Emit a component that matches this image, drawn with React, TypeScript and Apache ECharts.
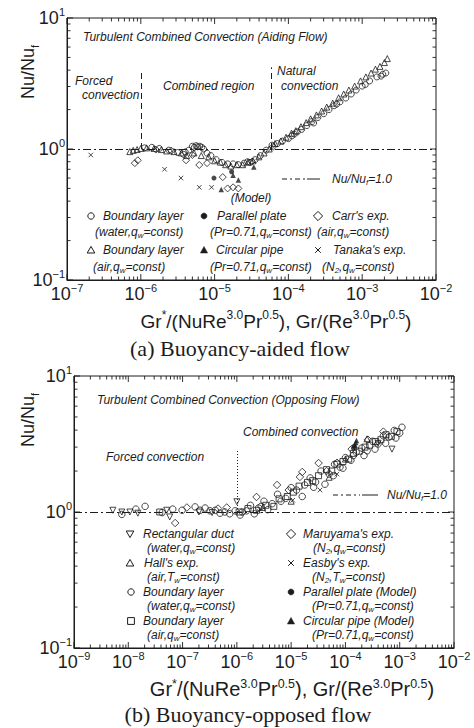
import React, { useEffect, useRef } from 'react';
import * as echarts from 'echarts';

const SANS = '"Liberation Sans", Arial, Helvetica, sans-serif';
const SERIF = '"Liberation Serif", "Times New Roman", serif';
const INK = '#1c1c1c';

// ---------- (a) Buoyancy-aided flow ----------
const A_BL_WATER: number[][] = [
  [1.12e-6, 1.02], [1.41e-6, 1.03], [1.78e-6, 1.01], [2.4e-6, 0.98], [3.16e-6, 0.94], [3.8e-6, 0.91],
  [4.0e-6, 0.95], [4.47e-6, 0.98], [5.0e-6, 1.05], [5.3e-6, 1.03], [5.6e-6, 1.06], [5.9e-6, 1.04],
  [6.3e-6, 1.05], [6.7e-6, 1.03], [7.1e-6, 1.0], [7.9e-6, 0.93], [8.9e-6, 0.89], [1.05e-5, 0.83],
  [1.26e-5, 0.79], [1.51e-5, 0.77], [1.78e-5, 0.77], [2.09e-5, 0.76], [2.51e-5, 0.78], [2.8e-5, 0.8],
  [3.02e-5, 0.79], [3.55e-5, 0.83], [4.17e-5, 0.89], [5.0e-5, 0.98], [6.0e-5, 1.07], [7.1e-5, 1.1],
  [8.3e-5, 1.15], [1.0e-4, 1.2], [1.12e-4, 1.26], [1.2e-4, 1.3], [1.32e-4, 1.35], [1.51e-4, 1.41],
  [1.78e-4, 1.51], [2.09e-4, 1.62], [2.2e-4, 1.58], [2.51e-4, 1.74], [3.02e-4, 1.86], [3.55e-4, 2.0],
  [4.17e-4, 2.14], [4.5e-4, 2.2], [5.0e-4, 2.29], [6.0e-4, 2.45], [7.1e-4, 2.63], [8.3e-4, 2.82],
  [1.0e-3, 3.02], [1.1e-3, 3.1], [1.26e-3, 3.31], [1.58e-3, 3.55], [1.8e-3, 3.6], [1.9e-3, 3.72],
  [2.09e-3, 3.8],
];
const A_BL_AIR: number[][] = [
  [7.1e-7, 0.955], [7.9e-7, 0.977], [8.9e-7, 0.99], [1.0e-6, 1.01], [1.2e-6, 1.02], [1.51e-6, 1.01],
  [1.9e-6, 0.99], [2.24e-6, 0.966], [2.82e-6, 0.955], [3.55e-6, 0.933], [4.17e-6, 0.891], [5.25e-6, 0.933],
  [6.6e-6, 0.891], [8.3e-6, 0.871], [1.0e-5, 0.813], [1.2e-5, 0.794], [1.41e-5, 0.759], [1.66e-5, 0.741],
  [2.0e-5, 0.759], [2.4e-5, 0.759], [2.82e-5, 0.794], [3.31e-5, 0.813], [3.98e-5, 0.871], [4.68e-5, 0.933],
  [5.5e-5, 1.0], [6.6e-5, 1.1], [7.9e-5, 1.15], [9.3e-5, 1.23], [1.1e-4, 1.32], [1.26e-4, 1.38],
  [1.48e-4, 1.48], [1.74e-4, 1.59], [2.0e-4, 1.7], [2.4e-4, 1.82], [2.82e-4, 1.95], [3.31e-4, 2.09],
  [3.98e-4, 2.24], [4.79e-4, 2.46], [5.62e-4, 2.63], [6.6e-4, 2.82], [7.9e-4, 3.02], [9.5e-4, 3.31],
  [1.12e-3, 3.55], [1.32e-3, 3.8], [1.51e-3, 4.07], [1.74e-3, 4.27], [2.0e-3, 4.57], [2.19e-3, 4.9],
];
const A_CARR: number[][] = [
  [8.3e-7, 0.78], [9.1e-7, 0.82], [1.6e-6, 0.99], [2.6e-6, 0.97], [4.1e-6, 0.82], [5.0e-6, 0.9],
  [6.2e-6, 0.755], [7.9e-6, 0.78], [1.29e-5, 0.61], [1.5e-5, 0.5], [1.78e-5, 0.51], [2.1e-5, 0.5],
  [3.2e-5, 0.8], [6.2e-5, 1.04],
];
const A_TANAKA: number[][] = [[2.1e-7, 0.9], [2.1e-6, 0.7], [3.5e-6, 0.6], [6.2e-6, 0.51], [9.1e-6, 0.51]];
const A_PLATE: number[][] = [[9.8e-6, 0.6], [1.7e-5, 0.67]];
const A_PIPE: number[][] = [[1.23e-5, 0.49], [1.78e-5, 0.63], [2.1e-5, 0.58], [3.4e-5, 0.73]];

// ---------- (b) Buoyancy-opposed flow ----------
const B_RECT: number[][] = [
  [5.2e-9, 1.03], [7.6e-9, 1.0], [1.07e-8, 1.0], [1.5e-8, 0.98], [5.1e-8, 1.03], [5.8e-8, 0.92],
  [2.0e-7, 1.0], [3.5e-7, 0.99], [1.0e-6, 1.19], [4.0e-4, 3.2], [7.2e-4, 2.9],
];
const B_HALL: number[][] = [[3.0e-6, 1.08], [1.0e-5, 1.2], [5.0e-5, 1.8], [1.0e-4, 2.45], [2.5e-4, 3.45]];
const B_BL_WATER: number[][] = [
  [7.6e-9, 0.96], [1.38e-8, 1.05], [2.04e-8, 1.1], [4.2e-8, 0.99], [6.6e-8, 1.05], [9.8e-8, 1.03],
  [1.7e-7, 1.09], [2.1e-7, 1.03], [2.6e-7, 1.07], [3.2e-7, 1.02], [4.0e-7, 1.03], [4.9e-7, 0.98],
  [6.0e-7, 1.0], [7.4e-7, 0.97], [9.3e-7, 1.02], [1.15e-6, 0.95],
  [1.26e-6, 1.0], [1.5e-6, 1.02], [1.78e-6, 1.12], [2.1e-6, 0.97], [2.51e-6, 1.07], [2.8e-6, 1.1],
  [3.16e-6, 1.2], [3.7e-6, 1.04], [4.47e-6, 1.15], [5.62e-6, 1.35], [6.5e-6, 1.2], [7.94e-6, 1.26],
  [1.0e-5, 1.51], [1.26e-5, 1.45], [1.6e-5, 1.3], [1.78e-5, 1.58], [2.24e-5, 1.78], [2.6e-5, 1.52],
  [2.82e-5, 1.66], [3.55e-5, 2.0], [4.2e-5, 1.6], [5.01e-5, 1.9], [6.0e-5, 1.85], [6.31e-5, 2.24],
  [7.94e-5, 2.14], [9.0e-5, 2.1], [1.0e-4, 2.51], [1.26e-4, 2.4], [1.4e-4, 2.6], [1.58e-4, 2.75],
  [2.0e-4, 2.95], [2.2e-4, 2.6], [2.51e-4, 2.82], [3.16e-4, 3.31], [3.5e-4, 2.9], [3.98e-4, 3.16],
  [5.01e-4, 3.63], [5.5e-4, 3.2], [6.31e-4, 3.55], [7.94e-4, 3.98], [8.5e-4, 3.5], [1.0e-3, 3.8],
  [1.1e-3, 4.2],
];
const B_BL_AIR: number[][] = [
  [3.8e-8, 1.0], [1.1e-6, 1.0], [1.6e-6, 1.06], [2.3e-6, 1.03], [3.4e-6, 1.12], [4.8e-6, 1.1],
  [6.0e-6, 1.25], [8.5e-6, 1.3], [1.1e-5, 1.4], [1.4e-5, 1.55], [2.0e-5, 1.65], [2.5e-5, 1.7],
  [3.2e-5, 1.85], [4.5e-5, 2.05], [5.6e-5, 2.0], [7.0e-5, 2.25], [9.0e-5, 2.35], [1.15e-4, 2.45],
  [1.4e-4, 2.7], [1.8e-4, 2.8], [2.3e-4, 3.0], [2.8e-4, 3.1], [3.6e-4, 3.3], [4.5e-4, 3.4],
  [5.6e-4, 3.7], [7.0e-4, 3.6], [8.9e-4, 3.9],
];
const B_MARUYAMA: number[][] = [
  [7.3e-8, 0.83], [1.2e-7, 1.08], [4.5e-7, 1.06], [6.5e-7, 1.08], [2.3e-6, 1.29], [5.5e-6, 1.58],
  [9.0e-6, 1.45], [1.45e-5, 1.81], [1.6e-5, 1.97], [3.2e-5, 2.29], [4.5e-5, 2.0], [7.0e-5, 2.3],
  [1.3e-4, 2.9], [2.6e-4, 3.4], [5.0e-4, 3.9],
];
const B_EASBY: number[][] = [[2.5e-6, 1.02], [1.07e-5, 1.22], [3.4e-5, 1.45], [7.0e-5, 1.9]];
const B_PLATE: number[][] = [[1.4e-4, 2.95], [1.45e-4, 3.05]];
const B_PIPE: number[][] = [[1.5e-4, 3.1], [1.55e-4, 3.25], [1.6e-4, 3.35]];

// axis ranges (decades)
const A_X_DECADES = [-7, -2];
const B_X_DECADES = [-9, -2];
const Y_DECADES = [-1, 1];

const SYM_DIAMOND = 'path://M0,-10L10,0L0,10L-10,0Z';
const SYM_X = 'path://M-10,-10L10,10M10,-10L-10,10';
const SYM_TRI_DOWN = 'path://M-10,-9L10,-9L0,9Z';

function logTicks(d0: number, d1: number): number[][] {
  const out: number[][] = [];
  for (let d = d0; d < d1; d++) {
    for (let m = 1; m <= 9; m++) out.push([m * Math.pow(10, d), m === 1 ? 1 : 0]);
  }
  out.push([Math.pow(10, d1), 1]);
  return out;
}

function scatter(data: number[][], gi: number, symbol: string, size: number, filled: boolean) {
  return {
    type: 'scatter',
    xAxisIndex: gi,
    yAxisIndex: gi,
    data,
    symbol,
    symbolSize: size,
    silent: true,
    z: 3,
    itemStyle: filled
      ? { color: INK, borderWidth: 0 }
      : { color: 'rgba(0,0,0,0)', borderColor: INK, borderWidth: 1 },
  };
}

function tickSeries(gi: number, ticks: number[][], axis: 'x' | 'y', lo: number[], hi: number[]) {
  const data = ticks.map((t) => (axis === 'x' ? [t[0], 1, t[1]] : [1e-4, t[0], t[1]]));
  return {
    type: 'custom',
    coordinateSystem: 'cartesian2d',
    xAxisIndex: gi,
    yAxisIndex: gi,
    silent: true,
    clip: false,
    encode: { x: 0, y: 1 },
    data,
    renderItem: (params: any, api: any) => {
      const major = api.value(2) === 1;
      const len = major ? 6 : 3.5;
      const st = { stroke: INK, lineWidth: 0.9 };
      if (axis === 'x') {
        const v = api.value(0);
        const b = api.coord([v, lo[1]]);
        const t = api.coord([v, hi[1]]);
        return {
          type: 'group',
          children: [
            { type: 'line', shape: { x1: b[0], y1: b[1], x2: b[0], y2: b[1] - len }, style: st },
            { type: 'line', shape: { x1: t[0], y1: t[1], x2: t[0], y2: t[1] + len }, style: st },
          ],
        };
      }
      const v = api.value(1);
      const l = api.coord([lo[0], v]);
      const r = api.coord([hi[0], v]);
      return {
        type: 'group',
        children: [
          { type: 'line', shape: { x1: l[0], y1: l[1], x2: l[0] + len, y2: l[1] }, style: st },
          { type: 'line', shape: { x1: r[0], y1: r[1], x2: r[0] - len, y2: r[1] }, style: st },
        ],
      };
    },
  };
}

const powLabel = (v: number) => {
  const e = Math.round(Math.log10(v));
  return `{b|10}{s|${e < 0 ? '\u2212' + -e : e}}`;
};
const POW_RICH = {
  b: { fontSize: 18, lineHeight: 24, fontFamily: SANS, color: INK, verticalAlign: 'middle' },
  s: { fontSize: 11, lineHeight: 11, fontFamily: SANS, color: INK, verticalAlign: 'top' },
};

function xAxis(gi: number, dec: number[]) {
  return {
    type: 'log',
    gridIndex: gi,
    logBase: 10,
    min: Math.pow(10, dec[0]),
    max: Math.pow(10, dec[1]),
    axisLine: { show: true, lineStyle: { color: INK, width: 1 } },
    axisTick: { show: false },
    splitLine: { show: false },
    axisLabel: { formatter: powLabel, rich: POW_RICH, margin: 2, showMinLabel: true, showMaxLabel: true },
  };
}
function yAxis(gi: number) {
  return {
    type: 'log',
    gridIndex: gi,
    logBase: 10,
    min: Math.pow(10, Y_DECADES[0]),
    max: Math.pow(10, Y_DECADES[1]),
    axisLine: { show: true, lineStyle: { color: INK, width: 1 } },
    axisTick: { show: false },
    splitLine: { show: false },
    axisLabel: { formatter: powLabel, rich: POW_RICH, margin: 2, showMinLabel: true, showMaxLabel: true },
  };
}

// ---------- graphic helpers ----------
const it = (size: number) => ({ fontSize: size, fontStyle: 'italic', fontFamily: SANS, fill: INK, color: INK });
const LEG_RICH = {
  n: { ...it(12), lineHeight: 14, verticalAlign: 'middle' },
  s: { ...it(8), lineHeight: 8, verticalAlign: 'bottom' },
};

function txt(x: number, y: number, text: string, extra: any = {}) {
  return {
    type: 'text',
    x,
    y,
    silent: true,
    rotation: extra.rotation || 0,
    style: {
      text,
      ...it(12),
      fontStyle: extra.fontStyle || 'italic',
      fontSize: extra.fontSize || 12,
      fontFamily: extra.fontFamily || SANS,
      align: extra.align || 'left',
      verticalAlign: 'middle',
      textAlign: extra.align || 'left',
      textVerticalAlign: 'middle',
      rich: extra.rich,
    },
  };
}

function sym(kind: string, cx: number, cy: number) {
  const st = { fill: 'none', stroke: INK, lineWidth: 1 };
  const fl = { fill: INK, stroke: INK, lineWidth: 0.5 };
  switch (kind) {
    case 'circle':
      return { type: 'circle', silent: true, shape: { cx, cy, r: 3.2 }, style: st };
    case 'dot':
      return { type: 'circle', silent: true, shape: { cx, cy, r: 3 }, style: fl };
    case 'tri':
      return { type: 'polygon', silent: true, shape: { points: [[cx, cy - 3.6], [cx + 3.8, cy + 3], [cx - 3.8, cy + 3]] }, style: st };
    case 'ftri':
      return { type: 'polygon', silent: true, shape: { points: [[cx, cy - 3.6], [cx + 3.6, cy + 3], [cx - 3.6, cy + 3]] }, style: fl };
    case 'dtri':
      return { type: 'polygon', silent: true, shape: { points: [[cx - 3.8, cy - 3], [cx + 3.8, cy - 3], [cx, cy + 3.6]] }, style: st };
    case 'diamond':
      return { type: 'polygon', silent: true, shape: { points: [[cx, cy - 4.6], [cx + 4.6, cy], [cx, cy + 4.6], [cx - 4.6, cy]] }, style: st };
    case 'square':
      return { type: 'rect', silent: true, shape: { x: cx - 3.4, y: cy - 3.4, width: 6.8, height: 6.8 }, style: st };
    default:
      return {
        type: 'group',
        silent: true,
        children: [
          { type: 'line', shape: { x1: cx - 2.8, y1: cy - 2.8, x2: cx + 2.8, y2: cy + 2.8 }, style: { stroke: INK, lineWidth: 1 } },
          { type: 'line', shape: { x1: cx + 2.8, y1: cy - 2.8, x2: cx - 2.8, y2: cy + 2.8 }, style: { stroke: INK, lineWidth: 1 } },
        ],
      };
  }
}

function refLegend(x0: number, x1: number, x2: number, y: number, tx: number) {
  return [
    { type: 'line', silent: true, shape: { x1: x0, y1: y, x2: x1, y2: y }, style: { stroke: INK, lineWidth: 1, lineDash: [5, 3, 2, 3] } },
    { type: 'line', silent: true, shape: { x1: x1 + 2, y1: y, x2: x2, y2: y }, style: { stroke: INK, lineWidth: 1 } },
    txt(tx, y, '{n|Nu/Nu}{s|f}{n|=1.0}', { rich: LEG_RICH }),
  ];
}

const NAME_RICH = {
  b: { fontSize: 18, lineHeight: 24, fontFamily: SANS, fill: INK, color: INK, verticalAlign: 'middle' },
  s: { fontSize: 11, lineHeight: 11, fontFamily: SANS, fill: INK, color: INK, verticalAlign: 'bottom' },
};
const xnameRich = (fs: number, ps: number) => ({
  b: { fontSize: fs, lineHeight: 24, fontFamily: SANS, fill: INK, color: INK, verticalAlign: 'middle' },
  p: { fontSize: ps, lineHeight: ps, fontFamily: SANS, fill: INK, color: INK, verticalAlign: 'top' },
});
const XNAME = '{b|Gr}{p|*}{b|/(NuRe}{p|3.0}{b|Pr}{p|0.5}{b|), Gr/(Re}{p|3.0}{b|Pr}{p|0.5}{b|)}';

function buildGraphics() {
  const g: any[] = [];
  // ---- (a) ----
  g.push(txt(83, 37, 'Turbulent Combined Convection (Aiding Flow)'));
  g.push(txt(75, 81, 'Forced'));
  g.push(txt(82, 95, 'convection'));
  g.push(txt(163, 86, 'Combined region'));
  g.push(txt(277, 71, 'Natural'));
  g.push(txt(281, 86, 'convection'));
  g.push(...refLegend(282, 305, 320, 179, 332));
  g.push(txt(251, 198, '(Model)', { align: 'center' }));
  const ay = [216, 232, 250, 267];
  g.push(sym('circle', 91, ay[0]), txt(103, ay[0], 'Boundary layer'));
  g.push(sym('dot', 204, ay[0]), txt(217, ay[0], 'Parallel plate'));
  g.push(sym('diamond', 318, ay[0]), txt(332, ay[0], "Carr's exp."));
  g.push(txt(95, ay[1], '{n|(water,q}{s|w}{n|=const)}', { rich: LEG_RICH }));
  g.push(txt(210, ay[1], '{n|(Pr=0.71,q}{s|w}{n|=const)}', { rich: LEG_RICH }));
  g.push(txt(317, ay[1], '{n|(air,q}{s|w}{n|=const)}', { rich: LEG_RICH }));
  g.push(sym('tri', 91, ay[2]), txt(103, ay[2], 'Boundary layer'));
  g.push(sym('ftri', 204, ay[2]), txt(216, ay[2], 'Circular pipe'));
  g.push(sym('x', 318, ay[2]), txt(333, ay[2], "Tanaka's exp."));
  g.push(txt(93, ay[3], '{n|(air,q}{s|w}{n|=const)}', { rich: LEG_RICH }));
  g.push(txt(210, ay[3], '{n|(Pr=0.71,q}{s|w}{n|=const)}', { rich: LEG_RICH }));
  g.push(txt(322, ay[3], '{n|(N}{s|2}{n|,q}{s|w}{n|=const)}', { rich: LEG_RICH }));
  g.push(txt(28, 72, '{b|Nu/Nu}{s|f}', { rich: NAME_RICH, align: 'center', rotation: Math.PI / 2, fontStyle: 'normal' }));
  g.push(txt(276, 321, XNAME, { rich: xnameRich(19, 12), align: 'center', fontStyle: 'normal' }));
  g.push(txt(240, 348, '(a) Buoyancy-aided flow', { align: 'center', fontStyle: 'normal', fontSize: 22, fontFamily: SERIF }));

  // ---- (b) ----
  g.push(txt(97, 400, 'Turbulent Combined Convection (Opposing Flow)'));
  g.push(txt(243, 432, 'Combined convection'));
  g.push(txt(106, 457, 'Forced convection'));
  g.push(...refLegend(333, 360, 378, 495, 387));
  const by = [534, 548, 563, 577, 592, 606, 621, 635];
  g.push(sym('dtri', 130, by[0]), txt(143, by[0], 'Rectangular duct'));
  g.push(sym('diamond', 291, by[0]), txt(303, by[0], "Maruyama's exp."));
  g.push(txt(147, by[1], '{n|(water,q}{s|w}{n|=const)}', { rich: LEG_RICH }));
  g.push(txt(313, by[1], '{n|(N}{s|2}{n|,q}{s|w}{n|=const)}', { rich: LEG_RICH }));
  g.push(sym('tri', 130, by[2]), txt(144, by[2], "Hall's exp."));
  g.push(sym('x', 291, by[2]), txt(303, by[2], "Easby's exp."));
  g.push(txt(147, by[3], '{n|(air,T}{s|w}{n|=const)}', { rich: LEG_RICH }));
  g.push(txt(312, by[3], '{n|(N}{s|2}{n|,T}{s|w}{n|=const)}', { rich: LEG_RICH }));
  g.push(sym('circle', 131, by[4]), txt(143, by[4], 'Boundary layer'));
  g.push(sym('dot', 291, by[4]), txt(303, by[4], 'Parallel plate (Model)'));
  g.push(txt(147, by[5], '{n|(water,q}{s|w}{n|=const)}', { rich: LEG_RICH }));
  g.push(txt(312, by[5], '{n|(Pr=0.71,q}{s|w}{n|=const)}', { rich: LEG_RICH }));
  g.push(sym('square', 131, by[6]), txt(143, by[6], 'Boundary layer'));
  g.push(sym('ftri', 291, by[6]), txt(303, by[6], 'Circular pipe (Model)'));
  g.push(txt(147, by[7], '{n|(air,q}{s|w}{n|=const)}', { rich: LEG_RICH }));
  g.push(txt(312, by[7], '{n|(Pr=0.71,q}{s|w}{n|=const)}', { rich: LEG_RICH }));
  g.push(txt(28, 420, '{b|Nu/Nu}{s|f}', { rich: NAME_RICH, align: 'center', rotation: Math.PI / 2, fontStyle: 'normal' }));
  g.push(txt(292, 689, XNAME, { rich: xnameRich(20, 12.5), align: 'center', fontStyle: 'normal' }));
  g.push(txt(248, 714, '(b) Buoyancy-opposed flow', { align: 'center', fontStyle: 'normal', fontSize: 22, fontFamily: SERIF }));
  return g;
}

export default function App() {
  const ref = useRef<HTMLDivElement>(null);
  useEffect(() => {
    document.body.style.margin = '0';
    if (!ref.current) return;
    const chart = echarts.init(ref.current, undefined, { renderer: 'svg' });
    const aLo = [1e-7, 0.1], aHi = [1e-2, 10];
    const bLo = [1e-9, 0.1], bHi = [1e-2, 10];
    const refLine = { color: INK, width: 1 };
    const aFirst: any = scatter(A_BL_WATER, 0, 'circle', 6, false);
    aFirst.markLine = {
      silent: true,
      symbol: ['none', 'none'],
      label: { show: false },
      lineStyle: refLine,
      data: [
        { yAxis: 1, lineStyle: { ...refLine, type: [8, 3, 2, 3] } },
        [{ coord: [1e-6, 1], lineStyle: { ...refLine, type: [6, 4] } }, { coord: [1e-6, 3.8] }],
        [{ coord: [5.8e-5, 1], lineStyle: { ...refLine, type: [6, 4] } }, { coord: [5.8e-5, 4.2] }],
      ],
    };
    const bFirst: any = scatter(B_BL_WATER, 1, 'circle', 6.5, false);
    bFirst.markLine = {
      silent: true,
      symbol: ['none', 'none'],
      label: { show: false },
      lineStyle: refLine,
      data: [
        { yAxis: 1, lineStyle: { ...refLine, type: [8, 3, 2, 3] } },
        [{ coord: [1e-6, 1], lineStyle: { ...refLine, type: [1, 2] } }, { coord: [1e-6, 2.86] }],
      ],
    };
    chart.setOption({
      animation: false,
      backgroundColor: '#ffffff',
      grid: [
        { left: 67, top: 18, width: 369, height: 262, show: true, borderColor: INK, borderWidth: 1 },
        { left: 74, top: 376, width: 380, height: 272, show: true, borderColor: INK, borderWidth: 1 },
      ],
      xAxis: [xAxis(0, A_X_DECADES), xAxis(1, B_X_DECADES)],
      yAxis: [yAxis(0), yAxis(1)],
      series: [
        aFirst,
        scatter(A_BL_AIR, 0, 'triangle', 6, false),
        scatter(A_CARR, 0, SYM_DIAMOND, 7, false),
        scatter(A_TANAKA, 0, SYM_X, 4.5, false),
        scatter(A_PLATE, 0, 'circle', 5, true),
        scatter(A_PIPE, 0, 'triangle', 5.5, true),
        tickSeries(0, logTicks(A_X_DECADES[0], A_X_DECADES[1]), 'x', aLo, aHi),
        tickSeries(0, logTicks(Y_DECADES[0], Y_DECADES[1]), 'y', aLo, aHi),
        bFirst,
        scatter(B_BL_AIR, 1, 'rect', 6, false),
        scatter(B_MARUYAMA, 1, SYM_DIAMOND, 7.5, false),
        scatter(B_RECT, 1, SYM_TRI_DOWN, 6, false),
        scatter(B_HALL, 1, 'triangle', 6, false),
        scatter(B_EASBY, 1, SYM_X, 4.5, false),
        scatter(B_PLATE, 1, 'circle', 5, true),
        scatter(B_PIPE, 1, 'triangle', 5.5, true),
        tickSeries(1, logTicks(B_X_DECADES[0], B_X_DECADES[1]), 'x', bLo, bHi),
        tickSeries(1, logTicks(Y_DECADES[0], Y_DECADES[1]), 'y', bLo, bHi),
      ],
      graphic: { elements: buildGraphics() },
    });
    return () => chart.dispose();
  }, []);
  return <div ref={ref} style={{ width: 474, height: 728 }} />;
}
